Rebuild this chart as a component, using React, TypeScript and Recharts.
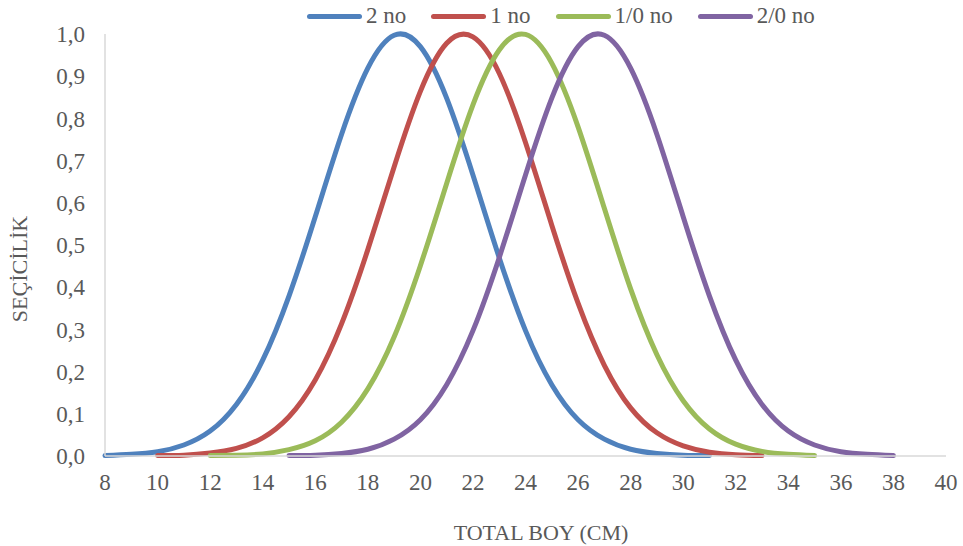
import { Line, LineChart, XAxis, YAxis } from "recharts";

document.body.style.margin = "0";

// seçicilik eğrileri, okunan değerler (1 cm aralıklı)
const x2no = [8, 9, 10, 11, 12, 13, 14, 15, 16, 17, 18, 19, 20, 21, 22, 23, 24, 25, 26, 27, 28, 29, 30, 31];
const y2no = [0.001, 0.004, 0.01, 0.026, 0.059, 0.122, 0.227, 0.379, 0.567, 0.762, 0.919, 0.997, 0.97, 0.848, 0.666, 0.47, 0.297, 0.169, 0.086, 0.04, 0.016, 0.006, 0.002, 0.001];

const x1no = [10, 11, 12, 13, 14, 15, 16, 17, 18, 19, 20, 21, 22, 23, 24, 25, 26, 27, 28, 29, 30, 31, 32, 33];
const y1no = [0.001, 0.002, 0.007, 0.018, 0.043, 0.093, 0.18, 0.313, 0.489, 0.685, 0.864, 0.978, 0.993, 0.907, 0.743, 0.547, 0.362, 0.215, 0.114, 0.055, 0.024, 0.009, 0.003, 0.001];

const x10no = [12, 13, 14, 15, 16, 17, 18, 19, 20, 21, 22, 23, 24, 25, 26, 27, 28, 29, 30, 31, 32, 33, 34, 35];
const y10no = [0.001, 0.002, 0.005, 0.015, 0.036, 0.08, 0.159, 0.282, 0.451, 0.646, 0.832, 0.962, 0.999, 0.931, 0.78, 0.587, 0.396, 0.24, 0.131, 0.064, 0.028, 0.011, 0.004, 0.001];

const x20no = [15, 16, 17, 18, 19, 20, 21, 22, 23, 24, 25, 26, 27, 28, 29, 30, 31, 32, 33, 34, 35, 36, 37, 38];
const y20no = [0.001, 0.002, 0.006, 0.016, 0.04, 0.086, 0.169, 0.297, 0.47, 0.666, 0.848, 0.97, 0.997, 0.919, 0.762, 0.567, 0.379, 0.227, 0.122, 0.059, 0.026, 0.01, 0.004, 0.001];

const xTicks = [8, 10, 12, 14, 16, 18, 20, 22, 24, 26, 28, 30, 32, 34, 36, 38, 40];
const yTicks = [0, 0.1, 0.2, 0.3, 0.4, 0.5, 0.6, 0.7, 0.8, 0.9, 1.0];

const series = [
  { name: "2 no", color: "#4F81BD", xs: x2no, ys: y2no },
  { name: "1 no", color: "#C0504D", xs: x1no, ys: y1no },
  { name: "1/0 no", color: "#9BBB59", xs: x10no, ys: y10no },
  { name: "2/0 no", color: "#8064A2", xs: x20no, ys: y20no },
];

const font = '"Times New Roman", "Liberation Serif", serif';
const textColor = "#595959";
const fs = 23;

export default function App() {
  return (
    <div style={{ position: "relative", width: 963, height: 546, background: "#fff", fontFamily: font }}>
      <LineChart
        width={963}
        height={546}
        margin={{ top: 34, right: 17, bottom: 60, left: 0 }}
        style={{ fontFamily: font }}
      >
        <XAxis
          type="number"
          dataKey="x"
          domain={[8, 40]}
          ticks={xTicks}
          interval={0}
          allowDuplicatedCategory={false}
          stroke="#d9d9d9"
          strokeWidth={1.5}
          tickLine={false}
          tickSize={0}
          tickMargin={18}
          tick={{ fill: textColor, fontFamily: font, fontSize: fs }}
        />
        <YAxis
          type="number"
          domain={[0, 1]}
          ticks={yTicks}
          width={105}
          stroke="#d9d9d9"
          strokeWidth={1.5}
          tickLine={false}
          tickSize={0}
          tickMargin={20}
          tickFormatter={(v: number) => v.toFixed(1).replace(".", ",")}
          tick={{ fill: textColor, fontFamily: font, fontSize: fs }}
        />
        {series.map((s) => (
          <Line
            key={s.name}
            name={s.name}
            data={s.xs.map((x, i) => ({ x, y: s.ys[i] }))}
            dataKey="y"
            type="natural"
            stroke={s.color}
            strokeWidth={5}
            strokeLinecap="round"
            dot={false}
            activeDot={false}
            isAnimationActive={false}
          />
        ))}
      </LineChart>
      <div
        style={{
          position: "absolute",
          top: 2,
          left: 307,
          display: "flex",
          alignItems: "center",
          fontSize: fs,
          color: textColor,
          lineHeight: "28px",
        }}
      >
        {series.map((s) => (
          <div key={s.name} style={{ display: "flex", alignItems: "center", marginRight: 25 }}>
            <div style={{ width: 55, height: 5, borderRadius: 3, background: s.color, marginRight: 4 }} />
            <span>{s.name}</span>
          </div>
        ))}
      </div>
      <div
        style={{
          position: "absolute",
          left: 541,
          top: 533,
          transform: "translate(-50%, -50%)",
          fontSize: 22,
          color: textColor,
          whiteSpace: "nowrap",
        }}
      >
        TOTAL BOY (CM)
      </div>
      <div
        style={{
          position: "absolute",
          left: 20,
          top: 269,
          transform: "translate(-50%, -50%) rotate(-90deg)",
          fontSize: 22,
          color: textColor,
          whiteSpace: "nowrap",
        }}
      >
        SEÇİCİLİK
      </div>
    </div>
  );
}
